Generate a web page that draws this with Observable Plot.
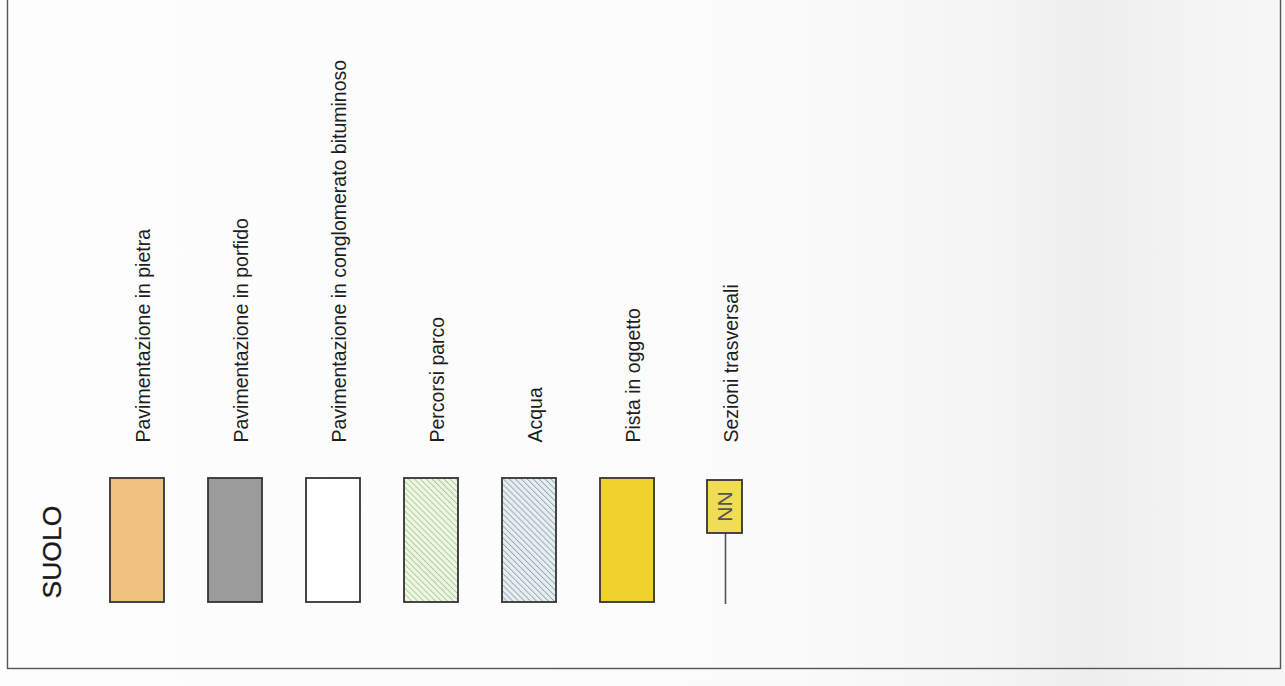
<!DOCTYPE html>
<html>
<head>
<meta charset="utf-8">
<script src="https://cdn.jsdelivr.net/npm/d3@7"></script>
<script src="https://cdn.jsdelivr.net/npm/@observablehq/plot@0.6"></script>
<style>
  html, body { margin: 0; padding: 0; }
  body {
    width: 1285px; height: 686px; overflow: hidden;
    background: linear-gradient(to right, #fdfdfd 0%, #fbfbfb 60%, #f4f4f5 78%, #eeeeef 85%, #f3f3f4 92%, #f7f7f7 100%);
    font-family: "Liberation Sans", Arial, Helvetica, sans-serif;
  }
  #chart svg { display: block; background: transparent !important; }
</style>
</head>
<body>
<div id="chart"></div>
<script>
// ---- data ----
const title = "SUOLO";
const categories = [
  "Pavimentazione in pietra",
  "Pavimentazione in porfido",
  "Pavimentazione in conglomerato bituminoso",
  "Percorsi parco",
  "Acqua",
  "Pista in oggetto",
  "Sezioni trasversali"
];
const kinds = ["solid", "solid", "solid", "hatch", "hatch", "solid", "section"];
const fills = ["#efc27f", "#9b9b9b", "#ffffff", "url(#hatchGreen)", "url(#hatchBlue)", "#f0d22f", "#f0dc55"];
const sectionMarker = "NN";

// ---- layout (pixel-space y scale) ----
const items = categories.map((c, i) => ({label: c, kind: kinds[i], fill: fills[i]}));
const swatches = items.filter(d => d.kind !== "section");
const sections = items.filter(d => d.kind === "section");

const W = 1285, H = 686;
const chart = Plot.plot({
  width: W,
  height: H,
  marginLeft: 7,
  marginRight: 5,
  marginTop: 0,
  marginBottom: 18,
  style: {background: "transparent", fontFamily: "'Liberation Sans', Arial, Helvetica, sans-serif"},
  x: {type: "band", domain: categories, range: [87, 774], paddingInner: 0.45, paddingOuter: 0.225, axis: null},
  y: {type: "linear", domain: [0, H], range: [0, H], axis: null},
  marks: [
    Plot.frame({stroke: "#555", strokeWidth: 1.4, insetTop: -10}),
    Plot.barY(swatches, {x: "label", y1: 478, y2: 602, fill: "fill", stroke: "#333", strokeWidth: 1.8}),
    // section symbol: stem + small box
    Plot.ruleX(sections, {x: "label", y1: 533, y2: 604, stroke: "#555", strokeWidth: 1.6}),
    Plot.barY(sections, {x: "label", y1: 480, y2: 533, fill: "fill", stroke: "#333", strokeWidth: 1.8, insetLeft: 9, insetRight: 10}),
    Plot.text(sections, {x: "label", y: 506, text: () => sectionMarker, rotate: -90, fontSize: 21, fill: "#555"}),
    // labels
    Plot.text(items, {x: "label", y: 442, text: "label", rotate: -90, textAnchor: "start", fontSize: 19.5, fill: "#1e1e1e", dx: 6}),
    // title
    Plot.text([title], {frameAnchor: "left", dx: 45, y: 598, text: d => d, rotate: -90, textAnchor: "start", fontSize: 26.5, fill: "#1a1a1a", stroke: "#1a1a1a", strokeWidth: 0.3})
  ]
});

// patterns for hatched swatches
const svg = d3.select(chart);
const defs = svg.insert("defs", ":first-child");
function hatch(id, bg, line) {
  const p = defs.append("pattern").attr("id", id).attr("patternUnits", "userSpaceOnUse")
    .attr("width", 4.2).attr("height", 4.2).attr("patternTransform", "rotate(-45)");
  p.append("rect").attr("width", 4.2).attr("height", 4.2).attr("fill", bg);
  p.append("line").attr("x1", 0).attr("y1", 0).attr("x2", 0).attr("y2", 4.2).attr("stroke", line).attr("stroke-width", 1.9);
}
hatch("hatchGreen", "#eef6e6", "#a9cf90");
hatch("hatchBlue", "#e8eef0", "#93abba");

document.getElementById("chart").appendChild(chart);
</script>
</body>
</html>
